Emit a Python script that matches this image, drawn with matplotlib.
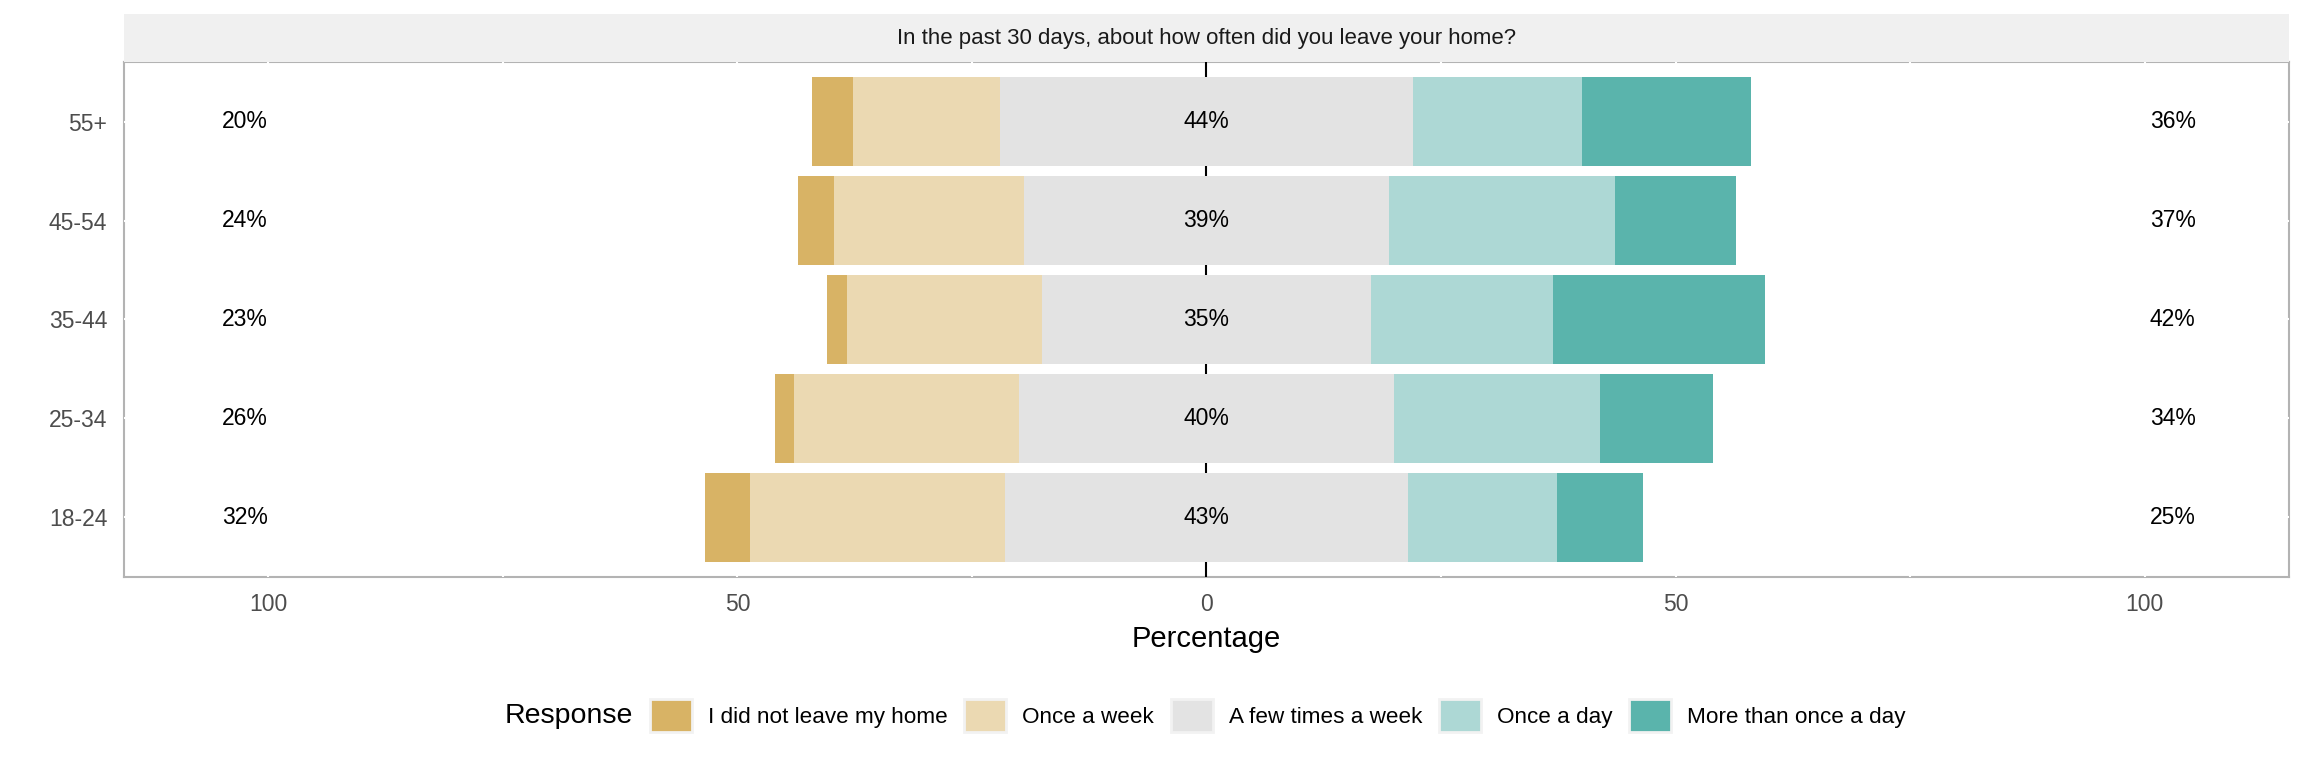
import numpy as np
import matplotlib
matplotlib.use("Agg")
import matplotlib.pyplot as plt
from matplotlib.patches import Patch

plt.rcParams['font.family'] = ['Liberation Sans', 'DejaVu Sans']

# age groups, bottom to top
groups = ["18-24", "25-34", "35-44", "45-54", "55+"]
responses = ["I did not leave my home", "Once a week", "A few times a week",
             "Once a day", "More than once a day"]
did_not = [4.8, 2.0, 2.2, 3.8, 4.3]
once_week = [27.2, 24.0, 20.8, 20.2, 15.7]
few_times = [43.0, 40.0, 35.0, 39.0, 44.0]
once_day = [15.9, 22.0, 19.4, 24.0, 18.0]
more_than = [9.1, 12.0, 22.6, 13.0, 18.0]
colors = ["#D8B365", "#EBD9B2", "#E3E3E3", "#ADD8D5", "#5AB4AC"]
title = "In the past 30 days, about how often did you leave your home?"

did_not = np.array(did_not)
once_week = np.array(once_week)
few_times = np.array(few_times)
once_day = np.array(once_day)
more_than = np.array(more_than)
y = np.arange(1, len(groups) + 1)
half = few_times / 2

fig = plt.figure(figsize=(23.04, 7.68), dpi=100)
ax = fig.add_axes([0.0538, 0.249, 0.9397, 0.670])

# white grid that only shows where it crosses the border
for xv in np.arange(-100, 101, 25):
    ax.axvline(xv, color="white", lw=1.5, zorder=1.2)
for yv in y:
    ax.axhline(yv, color="white", lw=1.5, zorder=1.2)
ax.axvline(0, color="black", lw=1.5, zorder=1.5)

h = 0.9
ax.barh(y, did_not, left=-half - once_week - did_not, height=h, color=colors[0], zorder=2)
ax.barh(y, once_week, left=-half - once_week, height=h, color=colors[1], zorder=2)
ax.barh(y, few_times, left=-half, height=h, color=colors[2], zorder=2)
ax.barh(y, once_day, left=half, height=h, color=colors[3], zorder=2)
ax.barh(y, more_than, left=half + once_day, height=h, color=colors[4], zorder=2)

low = np.round(did_not + once_week).astype(int)
high = np.round(once_day + more_than).astype(int)
mid = np.round(few_times).astype(int)
fs = 16.5
for yi, lo, md, hi in zip(y, low, mid, high):
    ax.text(-102.5, yi, f"{lo}%", ha="center", va="center", fontsize=fs, color="black", zorder=3)
    ax.text(0, yi, f"{md}%", ha="center", va="center", fontsize=fs, color="black", zorder=3)
    ax.text(103, yi, f"{hi}%", ha="center", va="center", fontsize=fs, color="black", zorder=3)

ax.set_xlim(-115.4, 115.4)
ax.set_ylim(0.4, 5.6)
ax.set_xticks([-100, -50, 0, 50, 100])
ax.set_xticklabels(["100", "50", "0", "50", "100"])
ax.set_yticks(y)
ax.set_yticklabels(groups)
ax.tick_params(axis="both", length=0, labelsize=fs, labelcolor="#4d4d4d")
ax.tick_params(axis="x", pad=12)
ax.tick_params(axis="y", pad=12)
for s in ax.spines.values():
    s.set_color("#b3b3b3")
    s.set_linewidth(1.5)
    s.set_zorder(1.1)
ax.set_xlabel("Percentage", fontsize=21, color="black", labelpad=6)

# facet strip
sax = fig.add_axes([0.0538, 0.919, 0.9397, 0.0625])
sax.set_facecolor("#f0f0f0")
sax.set_xticks([])
sax.set_yticks([])
for s in sax.spines.values():
    s.set_visible(False)
sax.text(0.5, 0.5, title, ha="center", va="center", fontsize=16, color="#1a1a1a",
         transform=sax.transAxes)

# legend
handles = [Patch(facecolor=c, edgecolor="#f2f2f2", linewidth=2) for c in colors]
fig.text(0.219, 0.068, "Response", ha="left", va="center", fontsize=20.5)
fig.legend(handles, responses, loc="center left", bbox_to_anchor=(0.282, 0.068),
           ncol=5, frameon=False, fontsize=16.2, handlelength=1.88, handleheight=1.88,
           handletextpad=0.7, columnspacing=0.74, borderpad=0, borderaxespad=0)

fig.savefig("out.png", dpi=100)
